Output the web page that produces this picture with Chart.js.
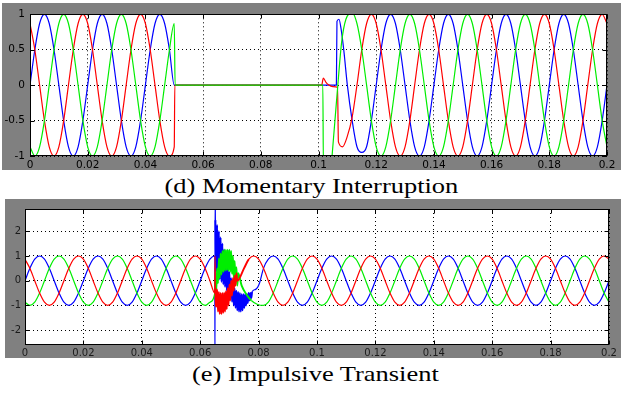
<!DOCTYPE html>
<html><head><meta charset="utf-8">
<script src="https://cdn.jsdelivr.net/npm/chart.js@4"></script>
<style>
html,body{margin:0;padding:0;background:#fff;width:621px;height:394px;overflow:hidden;position:relative}
.box{position:absolute;background:#808080}
.box canvas{display:block}
.cap{position:absolute;width:621px;text-align:center;font-family:"Liberation Serif","Times New Roman",serif;font-size:21.5px;line-height:21.5px;color:#000;white-space:nowrap}
.cap span{display:inline-block;transform:scaleX(1.23)}
</style></head><body>
<div class="box" style="left:2px;top:3px;width:619px;height:167px"><canvas id="cD" width="619" height="167"></canvas></div>
<div class="cap" style="left:1px;top:176px"><span>(d) Momentary Interruption</span></div>
<div class="box" style="left:5px;top:199px;width:616px;height:159px"><canvas id="cE" width="616" height="159"></canvas></div>
<div class="cap" style="left:5px;top:364px"><span>(e) Impulsive Transient</span></div>
<script>
// ---------- shared sample times (s) ----------
const time = [
0,.00167,.00333,.005,.00667,.00833,.01,.01167,.01333,.015,.01667,.01833,
.02,.02167,.02333,.025,.02667,.02833,.03,.03167,.03333,.035,.03667,.03833,
.04,.04167,.04333,.045,.04667,.04833,.05,.05167,.05333,.055,.05667,.05833,
.06,.06167,.06333,.065,.06667,.06833,.07,.07167,.07333,.075,.07667,.07833,
.08,.08167,.08333,.085,.08667,.08833,.09,.09167,.09333,.095,.09667,.09833,
.1,.10167,.10333,.105,.10667,.10833,.11,.11167,.11333,.115,.11667,.11833,
.12,.12167,.12333,.125,.12667,.12833,.13,.13167,.13333,.135,.13667,.13833,
.14,.14167,.14333,.145,.14667,.14833,.15,.15167,.15333,.155,.15667,.15833,
.16,.16167,.16333,.165,.16667,.16833,.17,.17167,.17333,.175,.17667,.17833,
.18,.18167,.18333,.185,.18667,.18833,.19,.19167,.19333,.195,.19667,.19833,
.2];

const xTicks = [0,.02,.04,.06,.08,.1,.12,.14,.16,.18,.2];
const xTickLabels = ['0','0.02','0.04','0.06','0.08','0.1','0.12','0.14','0.16','0.18','0.2'];
const dYTicks = [-1,-0.5,0,0.5,1];
const dYTickLabels = ['-1','-0.5','0','0.5','1'];
const eYTicks = [-2,-1,0,1,2];
const eYTickLabels = ['-2','-1','0','1','2'];

// ---------- (d) Momentary Interruption ----------
const dBlue = [
0,.5,.87,1,.87,.5,0,-.5,-.87,-1,-.87,-.5,
0,.5,.87,1,.87,.5,0,-.5,-.87,-1,-.87,-.5,
0,.5,.87,1,.87,.5,0,0,0,0,0,0,
0,0,0,0,0,0,0,0,0,0,0,0,
0,0,0,0,0,0,0,0,0,0,0,0,
0,0,0,0,null,null,0,-.5,-.87,-.95,-.87,-.5,
0,.5,.87,1,.87,.5,0,-.5,-.87,-1,-.87,-.5,
0,.5,.87,1,.87,.5,0,-.5,-.87,-1,-.87,-.5,
0,.5,.87,1,.87,.5,0,-.5,-.87,-1,-.87,-.5,
0,.5,.87,1,.87,.5,0,-.5,-.87,-1,-.87,-.5,
0];
const dBlueExtra = [[.1062,0],[.1064,.9],[.1071,.93],[.1078,.8],[.1088,.48]];

const dRed = [
.87,.5,0,-.5,-.87,-1,-.87,-.5,0,.5,.87,1,
.87,.5,0,-.5,-.87,-1,-.87,-.5,0,.5,.87,1,
.87,.5,0,-.5,-.87,-1,-.87,0,0,0,0,0,
0,0,0,0,0,0,0,0,0,0,0,0,
0,0,0,0,0,0,0,0,0,0,0,0,
0,.1,.01,-.02,null,-.87,-.72,-.45,0,.5,.87,1,
.87,.5,0,-.5,-.87,-1,-.87,-.5,0,.5,.87,1,
.87,.5,0,-.5,-.87,-1,-.87,-.5,0,.5,.87,1,
.87,.5,0,-.5,-.87,-1,-.87,-.5,0,.5,.87,1,
.87,.5,0,-.5,-.87,-1,-.87,-.5,0,.5,.87,1,
.87];
const dRedExtra = [[.0502,0],[.1011,0],[.1026,.04],[.1066,-.03],[.1069,-.8]];

const dGreen = [
-.87,-1,-.87,-.5,0,.5,.87,1,.87,.5,0,-.5,
-.87,-1,-.87,-.5,0,.5,.87,1,.87,.5,0,-.5,
-.87,-1,-.87,-.5,0,.5,.87,0,0,0,0,0,
0,0,0,0,0,0,0,0,0,0,0,0,
0,0,0,0,0,0,0,0,0,0,0,0,
0,null,null,null,null,null,null,1.02,.87,.5,0,-.5,
-.87,-1,-.87,-.5,0,.5,.87,1,.87,.5,0,-.5,
-.87,-1,-.87,-.5,0,.5,.87,1,.87,.5,0,-.5,
-.87,-1,-.87,-.5,0,.5,.87,1,.87,.5,0,-.5,
-.87,-1,-.87,-.5,0,.5,.87,1,.87,.5,0,-.5,
-.87];
const dGreenExtra = [[.0503,0],[.1015,0],[.1017,-1.15],[.1044,-1.15],[.1047,-1],[.1057,-.5],[.1067,0],[.108,.6],[.1095,.93]];

// ---------- (e) Impulsive Transient ----------
const eBlue = [
0,.5,.87,1,.87,.5,0,-.5,-.87,-1,-.87,-.5,
0,.5,.87,1,.87,.5,0,-.5,-.87,-1,-.87,-.5,
0,.5,.87,1,.87,.5,0,-.5,-.87,-1,-.87,-.5,
0,.5,.87,1,null,null,null,null,null,null,null,null,
null,.5,.87,1,.87,.5,0,-.5,-.87,-1,-.87,-.5,
0,.5,.87,1,.87,.5,0,-.5,-.87,-1,-.87,-.5,
0,.5,.87,1,.87,.5,0,-.5,-.87,-1,-.87,-.5,
0,.5,.87,1,.87,.5,0,-.5,-.87,-1,-.87,-.5,
0,.5,.87,1,.87,.5,0,-.5,-.87,-1,-.87,-.5,
0,.5,.87,1,.87,.5,0,-.5,-.87,-1,-.87,-.5,
0];
const eRed = [
.87,.5,0,-.5,-.87,-1,-.87,-.5,0,.5,.87,1,
.87,.5,0,-.5,-.87,-1,-.87,-.5,0,.5,.87,1,
.87,.5,0,-.5,-.87,-1,-.87,-.5,0,.5,.87,1,
.87,.5,0,-.5,null,null,null,null,null,.5,.87,1,
.87,.5,0,-.5,-.87,-1,-.87,-.5,0,.5,.87,1,
.87,.5,0,-.5,-.87,-1,-.87,-.5,0,.5,.87,1,
.87,.5,0,-.5,-.87,-1,-.87,-.5,0,.5,.87,1,
.87,.5,0,-.5,-.87,-1,-.87,-.5,0,.5,.87,1,
.87,.5,0,-.5,-.87,-1,-.87,-.5,0,.5,.87,1,
.87,.5,0,-.5,-.87,-1,-.87,-.5,0,.5,.87,1,
.87];
const eGreen = [
-.87,-1,-.87,-.5,0,.5,.87,1,.87,.5,0,-.5,
-.87,-1,-.87,-.5,0,.5,.87,1,.87,.5,0,-.5,
-.87,-1,-.87,-.5,0,.5,.87,1,.87,.5,0,-.5,
-.87,-1,-.87,-.5,null,null,null,null,null,null,null,null,
null,-1,-.87,-.5,0,.5,.87,1,.87,.5,0,-.5,
-.87,-1,-.87,-.5,0,.5,.87,1,.87,.5,0,-.5,
-.87,-1,-.87,-.5,0,.5,.87,1,.87,.5,0,-.5,
-.87,-1,-.87,-.5,0,.5,.87,1,.87,.5,0,-.5,
-.87,-1,-.87,-.5,0,.5,.87,1,.87,.5,0,-.5,
-.87,-1,-.87,-.5,0,.5,.87,1,.87,.5,0,-.5,
-.87];
// high-frequency ringing after the impulse (alternating upper / lower envelope)
const eBurstTime = [.0652,.0655,.0658,.0661,.0664,.0667,.067,.0673,.0676,.0679,.0682,.0685,.0688,.0691,.0694,.0697,.07,.0703,.0706,.0709,.0712,.0715,.0718,.0721,.0724,.0727,.073,.0733,.0736,.0739,.0742,.0745,.0748,.0751,.0754,.0757,.076,.0763,.0766,.0769,.0772,.0775,.0778];
const eBlueBurst = [2.45,.35,2.25,.2,2,.05,1.75,-.05,1.5,-.15,1.25,-.25,.95,-.4,.65,-.55,.35,-.7,.1,-.85,-.15,-1,-.3,-1.1,-.4,-1.2,-.45,-1.25,-.5,-1.25,-.55,-1.2,-.55,-1.1,-.55,-1,-.55,-.9,-.5,-.8,-.5,-.7,-.45];
const eRedBurst = [-.3,-1.05,-.35,-1.25,-.45,-1.35,-.5,-1.35,-.5,-1.3,-.48,-1.25,-.42,-1.15,-.3,-1,-.15,-.8,0,-.6,.1,-.4,.2,-.2,.3,0];
const eGreenBurst = [.1,-.4,.5,-.1,.9,.1,1.1,.25,1.2,.35,1.25,.4,1.25,.42,1.25,.4,1.25,.36,1.2,.28,1,.1,.8,-.05,.55,-.2,.3];
const eBlueExtra = [[.06506,-3.5],[.0651,3.5],[.079,-.35],[.0803,-.1]];
const eRedExtra = [[.06508,1]];
const eGreenExtra = [[.0742,-.2],[.0758,-.55],[.0775,-.8],[.0795,-.95]];

// ---------- build ----------
function series(base, extra, burstT, burstV) {
  const pts = [];
  time.forEach((t, i) => { if (base[i] !== null) pts.push({x: t, y: base[i]}); });
  extra.forEach(p => pts.push({x: p[0], y: p[1]}));
  if (burstV) burstV.forEach((v, i) => pts.push({x: burstT[i], y: v}));
  pts.sort((a, b) => a.x - b.x);
  return pts;
}

const frame = {
  id: 'frame',
  beforeDraw(c) {
    const a = c.chartArea, ctx = c.ctx;
    ctx.save(); ctx.fillStyle = '#fff';
    ctx.fillRect(a.left, a.top, a.right - a.left, a.bottom - a.top);
    ctx.restore();
  },
  afterDraw(c) {
    const a = c.chartArea, ctx = c.ctx;
    ctx.save(); ctx.strokeStyle = '#000'; ctx.lineWidth = 1;
    const L = Math.round(a.left) + .5, R = Math.round(a.right) - .5, T = Math.round(a.top) + .5, B = Math.round(a.bottom) - .5;
    ctx.strokeRect(L, T, R - L, B - T);
    ctx.beginPath();
    c.scales.x.ticks.forEach(t => {
      const p = Math.round(c.scales.x.getPixelForValue(t.value)) + .5;
      ctx.moveTo(p, B); ctx.lineTo(p, B - 4); ctx.moveTo(p, T); ctx.lineTo(p, T + 4);
    });
    c.scales.y.ticks.forEach(t => {
      const p = Math.round(c.scales.y.getPixelForValue(t.value)) + .5;
      ctx.moveTo(L, p); ctx.lineTo(L + 4, p); ctx.moveTo(R, p); ctx.lineTo(R - 4, p);
    });
    ctx.stroke(); ctx.restore();
  }
};

function makeChart(id, sets, cfg) {
  new Chart(document.getElementById(id), {
    type: 'line',
    data: {datasets: sets},
    options: {
      responsive: false, animation: false, events: [],
      layout: {padding: {top: cfg.padTop, right: cfg.padRight, left: 0, bottom: 0}},
      plugins: {legend: {display: false}, tooltip: {enabled: false}, title: {display: false}},
      elements: {point: {radius: 0}, line: {borderWidth: 1.2, cubicInterpolationMode: 'monotone', fill: false}},
      scales: {
        x: {
          type: 'linear', min: 0, max: 0.2,
          afterBuildTicks: s => { s.ticks = xTicks.map(v => ({value: v})); },
          afterFit: s => { s.height = cfg.xH; },
          ticks: {callback: (v, i) => xTickLabels[i], autoSkip: false, maxRotation: 0, padding: cfg.xPad,
                  color: cfg.tickColor, font: {family: '"DejaVu Sans", sans-serif', size: cfg.fs}},
          grid: {color: '#000', lineWidth: 1, drawTicks: false},
          border: {display: false, dash: [1, 3]}
        },
        y: {
          type: 'linear', min: cfg.yMin, max: cfg.yMax,
          afterBuildTicks: s => { s.ticks = cfg.yTicks.map(v => ({value: v})); },
          afterFit: s => { s.width = cfg.yW; },
          ticks: {callback: (v, i) => cfg.yLabels[i], autoSkip: false, padding: cfg.yPad,
                  color: cfg.tickColor, font: {family: '"DejaVu Sans", sans-serif', size: cfg.fs}},
          grid: {color: '#000', lineWidth: 1, drawTicks: false},
          border: {display: false, dash: [1, 3]}
        }
      }
    },
    plugins: [frame]
  });
}

const burstStart = eBurstTime[0], burstEnd = eBurstTime[eBurstTime.length - 1];
const ds = (data, color, order, burst) => ({
  data, borderColor: color, order, spanGaps: true, clip: 0,
  segment: burst ? {borderWidth: c => (c.p0.parsed.x >= burstStart && c.p1.parsed.x <= burstEnd) ? 1.9 : undefined} : undefined
});

makeChart('cD', [
  ds(series(dBlue, dBlueExtra), '#0000ff', 2),
  ds(series(dRed, dRedExtra), '#ff0000', 1),
  ds(series(dGreen, dGreenExtra), '#00ee00', 0)
], {padTop: 9, padRight: 14, xH: 14, yW: 28, xPad: 3, yPad: 5, fs: 10.5, tickColor: '#000',
    yMin: -1, yMax: 1, yTicks: dYTicks, yLabels: dYTickLabels});

makeChart('cE', [
  ds(series(eBlue, eBlueExtra, eBurstTime, eBlueBurst), '#0000ff', 2, true),
  ds(series(eRed, eRedExtra, eBurstTime, eRedBurst), '#ff0000', 0, true),
  ds(series(eGreen, eGreenExtra, eBurstTime, eGreenBurst), '#00ee00', 1, true)
], {padTop: 10, padRight: 12, xH: 13, yW: 20, xPad: 2, yPad: 4, fs: 10, tickColor: '#1a1a1a',
    yMin: -2.6, yMax: 2.9, yTicks: eYTicks, yLabels: eYTickLabels});
</script>
</body></html>
